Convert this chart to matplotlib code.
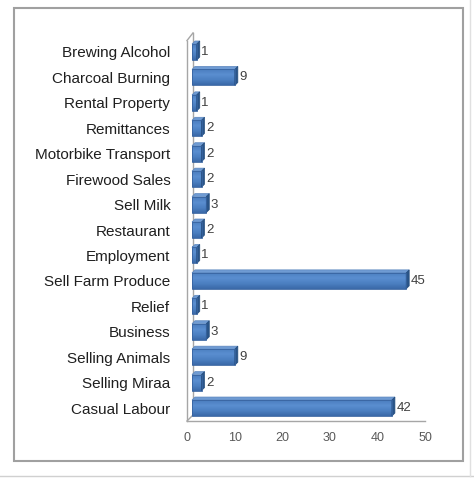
import numpy as np
import matplotlib.pyplot as plt
from matplotlib.patches import Rectangle, Polygon
from matplotlib.lines import Line2D

# income sources, top to bottom as in the chart
categories = ['Brewing Alcohol', 'Charcoal Burning', 'Rental Property', 'Remittances',
              'Motorbike Transport', 'Firewood Sales', 'Sell Milk', 'Restaurant',
              'Employment', 'Sell Farm Produce', 'Relief', 'Business',
              'Selling Animals', 'Selling Miraa', 'Casual Labour']
counts = [1, 9, 1, 2, 2, 2, 3, 2, 1, 45, 1, 3, 9, 2, 42]
xticks = [0, 10, 20, 30, 40, 50]

W, H = 474, 478
fig = plt.figure(figsize=(W / 100, H / 100), dpi=100)
fig.patch.set_facecolor('white')

# axes placed in pixel terms
left_px, right_px, bottom_px, top_px = 187, 425, 421, 38
ax = fig.add_axes([left_px / W, 1 - bottom_px / H, (right_px - left_px) / W, (bottom_px - top_px) / H])
ax.set_xlim(0, 50)
ax.set_ylim(-0.51, 14.55)
ax.patch.set_alpha(0)
for s in ax.spines.values():
    s.set_visible(False)

px_x = (right_px - left_px) / 50.0          # pixels per x unit
px_y = (bottom_px - top_px) / (14.55 + 0.51)  # pixels per y unit

ypos = [len(categories) - 1 - i for i in range(len(categories))]

# 3d-ish geometry, in data units
ox = 5 / px_x
dx = 3 / px_x
dy = 3 / px_y
h = 16 / px_y

side = '#2a5588'
topc = '#6f9bd3'

# vertical gradient for the bar fronts (light top, darker bottom)
grad = np.linspace(0, 1, 64).reshape(-1, 1)
from matplotlib.colors import LinearSegmentedColormap
cmap = LinearSegmentedColormap.from_list('bar', ['#3a69a8', '#4c80c2', '#5a8ed0', '#4a7dbe'])

# back wall and floor
wall_c = '#a6a6a6'
ax.add_line(Line2D([0, 0], [-0.51, 14.55 - 0.1], color=wall_c, lw=1, clip_on=False))
ax.add_line(Line2D([6 / px_x, 6 / px_x], [-0.51 + 6 / px_y, 14.55 + 0.2], color=wall_c, lw=1, clip_on=False))
ax.add_line(Line2D([0, 6 / px_x], [14.55 - 0.1, 14.55 + 0.2], color=wall_c, lw=1, clip_on=False))
ax.add_line(Line2D([0, 50], [-0.51, -0.51], color=wall_c, lw=1, clip_on=False))
ax.add_line(Line2D([0, 6 / px_x], [-0.51, -0.51 + 6 / px_y], color=wall_c, lw=1, clip_on=False))

for y, v in zip(ypos, counts):
    yb = y - h / 2
    yt = y + h / 2
    ax.imshow(grad, cmap=cmap, aspect='auto', extent=(ox, ox + v, yb, yt),
              origin='lower', zorder=3, interpolation='bilinear')
    ax.add_patch(Rectangle((ox, yb), v, h, fill=False, ec='#3763a0', lw=0.6, zorder=3.1))
    ax.add_patch(Polygon([(ox, yt), (ox + v, yt), (ox + v + dx, yt + dy), (ox + dx, yt + dy)],
                         closed=True, fc=topc, ec='#5b86bd', lw=0.5, zorder=3))
    ax.add_patch(Polygon([(ox + v, yb), (ox + v, yt), (ox + v + dx, yt + dy), (ox + v + dx, yb + dy)],
                         closed=True, fc=side, ec='#244d7e', lw=0.5, zorder=3))
    ax.text(ox + v + dx + 0.3, y, str(v), ha='left', va='center',
            fontsize=9.5, color='#404040', family='Liberation Sans', zorder=4)

ax.set_xlim(0, 50)
ax.set_ylim(-0.51, 14.55)
ax.set_yticks(ypos)
ax.set_yticklabels(categories, fontsize=11, color='#1f1f1f', family='Liberation Sans')
ax.tick_params(axis='y', length=0, pad=12)
ax.set_xticks(xticks)
ax.set_xticklabels([str(t) for t in xticks], fontsize=9, color='#595959', family='Liberation Sans')
ax.tick_params(axis='x', length=0, pad=8)

# outer frame and stray page lines
fig.add_artist(Rectangle((14 / W, 1 - 461 / H), (463 - 14) / W, (461 - 8) / H,
                         transform=fig.transFigure, fill=False, ec='#a0a0a0', lw=1.5))
fig.add_artist(Line2D([0, 1], [1 - 476 / H, 1 - 476 / H], transform=fig.transFigure, color='#d0d0d0', lw=1))
fig.add_artist(Line2D([470 / W, 470 / W], [1 - 476 / H, 1], transform=fig.transFigure, color='#e0e0e0', lw=1))

fig.savefig('out.png', dpi=100)
